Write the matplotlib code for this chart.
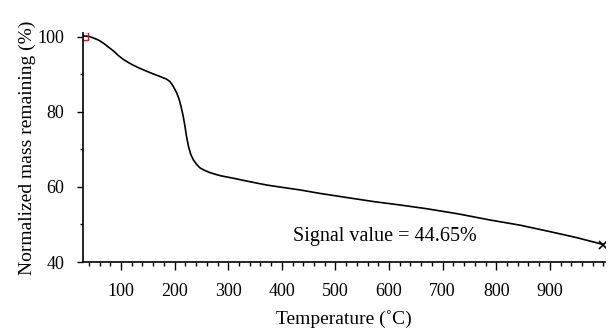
import matplotlib.pyplot as plt
from matplotlib.ticker import MultipleLocator, FixedLocator

# TGA curve
temperature = [30, 40, 48, 58, 67, 76, 86, 95, 104, 113, 123, 135, 148, 160, 173, 185, 191,
               197, 204, 208, 212, 216, 219, 222, 226, 230, 235, 241, 247, 256, 266, 285,
               310, 340, 372, 400, 434, 470, 520, 571, 620, 670, 730, 788, 845, 900, 950, 1000]
mass = [100.2, 100.1, 99.7, 99.1, 98.3, 97.3, 96.2, 95.0, 94.0, 93.2, 92.4, 91.6, 90.8, 90.1,
        89.4, 88.7, 88.1, 86.9, 85.0, 83.5, 81.4, 78.8, 76.4, 73.6, 70.7, 68.7, 67.2, 66.0,
        65.1, 64.4, 63.8, 63.0, 62.3, 61.4, 60.5, 59.9, 59.2, 58.3, 57.2, 56.1, 55.2, 54.2,
        52.8, 51.2, 49.8, 48.1, 46.5, 44.65]

x_ticks = [100, 200, 300, 400, 500, 600, 700, 800, 900]
signal_text = 'Signal value = 44.65%'

plt.rcParams['font.family'] = ['Liberation Serif', 'DejaVu Serif']
plt.rcParams['font.size'] = 13

fig = plt.figure(figsize=(6.12, 3.36), dpi=100)
ax = fig.add_axes([0.1356, 0.2202, 0.853, 0.6816])

ax.plot(temperature, mass, color='black', linewidth=1.2)
ax.plot(temperature[0], mass[0], marker='s', markersize=6, markerfacecolor='none',
        markeredgecolor='red', markeredgewidth=1.0)
ax.plot(temperature[-1], mass[-1], marker='x', markersize=6, color='black', markeredgewidth=1.2)

ax.text(592, 46.7, signal_text, ha='center', va='center', fontsize=14.5)

ax.set_xlim(29, 1003)
ax.set_ylim(40, 101)
ax.spines['top'].set_visible(False)
ax.spines['right'].set_visible(False)
ax.spines['left'].set_linewidth(1.2)
ax.spines['bottom'].set_linewidth(1.2)

ax.xaxis.set_major_locator(FixedLocator(x_ticks))
ax.xaxis.set_minor_locator(MultipleLocator(20))
ax.yaxis.set_major_locator(MultipleLocator(20))
ax.yaxis.set_minor_locator(MultipleLocator(10))
ax.tick_params(axis='x', which='major', direction='out', length=6, width=1.0, pad=9)
ax.tick_params(axis='x', which='minor', direction='out', length=3, width=1.0)
ax.tick_params(axis='y', which='major', direction='out', length=4.5, width=1.0, pad=9)
ax.tick_params(axis='y', which='minor', direction='out', length=2, width=1.0)

ax.set_xlabel('Temperature (˚C)', labelpad=7, fontsize=14)
ax.set_ylabel('Normalized mass remaining (%)', labelpad=1, fontsize=14)

fig.savefig('out.png', dpi=100)
